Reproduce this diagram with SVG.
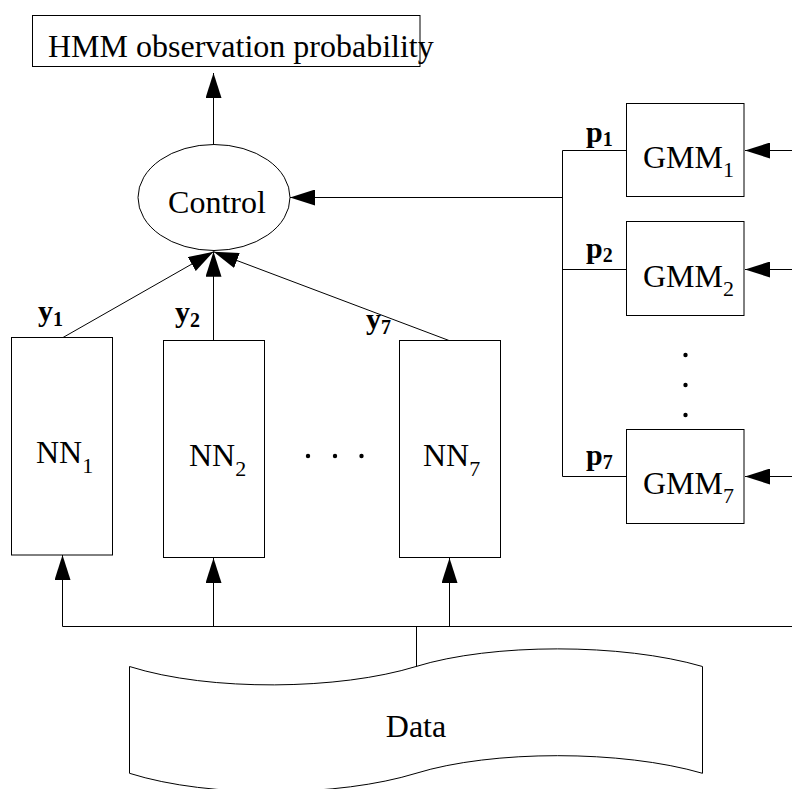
<svg xmlns="http://www.w3.org/2000/svg" width="792" height="789" viewBox="0 0 792 789">
  <defs>
    <marker id="arrow" markerUnits="userSpaceOnUse" markerWidth="25" markerHeight="16" viewBox="0 0 25 16" refX="25" refY="8" orient="auto">
      <path d="M0,0 L25,8 L0,16 Z" fill="#000"/>
    </marker>
    <style>
      .box { fill: #fff; stroke: #000; stroke-width: 1; }
      .wire { fill: none; stroke: #000; stroke-width: 1; }
      .lbl { font-family: "Liberation Serif", "Times New Roman", serif; font-size: 32px; fill: #000; }
      .sub { font-size: 22px; }
      .tag { font-family: "Liberation Serif", "Times New Roman", serif; font-weight: bold; font-size: 30px; fill: #000; }
      .tsub { font-size: 20px; }
      .dot { fill: #000; }
    </style>
  </defs>
  <rect width="792" height="789" fill="#fff"/>

  <!-- output node -->
  <g id="hmm">
    <rect class="box" x="32.5" y="15.5" width="387.5" height="51"/>
    <text class="lbl" x="48" y="57">HMM observation probability</text>
  </g>

  <!-- combiner -->
  <g id="control">
    <ellipse class="box" cx="214" cy="197.5" rx="76" ry="53"/>
    <text class="lbl" x="217" y="213" text-anchor="middle">Control</text>
  </g>

  <!-- neural networks -->
  <g id="nn1">
    <rect class="box" x="11.5" y="337.5" width="101" height="217.5"/>
    <text class="lbl" x="36" y="463">NN<tspan class="sub" dy="10">1</tspan></text>
  </g>
  <g id="nn2">
    <rect class="box" x="163.5" y="340.5" width="101" height="217"/>
    <text class="lbl" x="189" y="466">NN<tspan class="sub" dy="10">2</tspan></text>
  </g>
  <g id="nn7">
    <rect class="box" x="399.5" y="340.5" width="101" height="217"/>
    <text class="lbl" x="423" y="466">NN<tspan class="sub" dy="10">7</tspan></text>
  </g>
  <g id="nn-ellipsis">
    <circle class="dot" cx="308" cy="456" r="2.2"/>
    <circle class="dot" cx="335" cy="456" r="2.2"/>
    <circle class="dot" cx="361.5" cy="456" r="2.2"/>
  </g>

  <!-- gaussian mixture models -->
  <g id="gmm1">
    <rect class="box" x="626.5" y="103.5" width="117.5" height="93"/>
    <text class="lbl" x="643" y="168">GMM<tspan class="sub" dy="9">1</tspan></text>
  </g>
  <g id="gmm2">
    <rect class="box" x="626.5" y="221.5" width="117.5" height="94"/>
    <text class="lbl" x="643" y="287">GMM<tspan class="sub" dy="9">2</tspan></text>
  </g>
  <g id="gmm7">
    <rect class="box" x="626.5" y="429.5" width="117.5" height="94"/>
    <text class="lbl" x="643" y="494">GMM<tspan class="sub" dy="9">7</tspan></text>
  </g>
  <g id="gmm-ellipsis">
    <circle class="dot" cx="685.5" cy="355" r="2.2"/>
    <circle class="dot" cx="685.5" cy="385" r="2.2"/>
    <circle class="dot" cx="685.5" cy="415" r="2.2"/>
  </g>

  <!-- input data -->
  <g id="data">
    <path class="box" stroke-width="1.2" d="M129.5,666.5 C210,692 340,690 416,666.5 C492,643 622,643 702.5,666.5 V773.3 C622,749.8 492,749.8 416,773.3 C340,796.8 210,798.8 129.5,773.3 Z"/>
    <text class="lbl" x="416" y="737" text-anchor="middle">Data</text>
  </g>

  <!-- connectors -->
  <g id="connectors">
    <path class="wire" d="M213.5,144 V73" marker-end="url(#arrow)"/>
    <path class="wire" d="M562.5,197.5 H290" marker-end="url(#arrow)"/>
    <path class="wire" d="M562.5,150.5 V476.5 M562.5,150.5 H626.5 M562.5,269.5 H626.5 M562.5,476.5 H626.5"/>
    <path class="wire" d="M792,150.5 H745" marker-end="url(#arrow)"/>
    <path class="wire" d="M792,269.5 H745" marker-end="url(#arrow)"/>
    <path class="wire" d="M792,476.5 H745" marker-end="url(#arrow)"/>
    <path class="wire" d="M63,337.5 L213.5,251.7" marker-end="url(#arrow)"/>
    <path class="wire" d="M213.5,340.5 V251.7" marker-end="url(#arrow)"/>
    <path class="wire" d="M449,340.5 L213.5,251.7" marker-end="url(#arrow)"/>
    <path class="wire" d="M62.5,626.5 H792 M416.5,626.5 V666.5"/>
    <path class="wire" d="M62.5,626.5 V555" marker-end="url(#arrow)"/>
    <path class="wire" d="M213.5,626.5 V558" marker-end="url(#arrow)"/>
    <path class="wire" d="M449.5,626.5 V558" marker-end="url(#arrow)"/>
  </g>

  <!-- output labels -->
  <g id="labels">
    <text class="tag" x="38" y="321">y<tspan class="tsub" dy="5">1</tspan></text>
    <text class="tag" x="175" y="322">y<tspan class="tsub" dy="5">2</tspan></text>
    <text class="tag" x="366" y="329">y<tspan class="tsub" dy="5">7</tspan></text>
    <text class="tag" x="586" y="142">p<tspan class="tsub" dy="4">1</tspan></text>
    <text class="tag" x="586" y="258">p<tspan class="tsub" dy="4">2</tspan></text>
    <text class="tag" x="586" y="465">p<tspan class="tsub" dy="4">7</tspan></text>
  </g>
</svg>
